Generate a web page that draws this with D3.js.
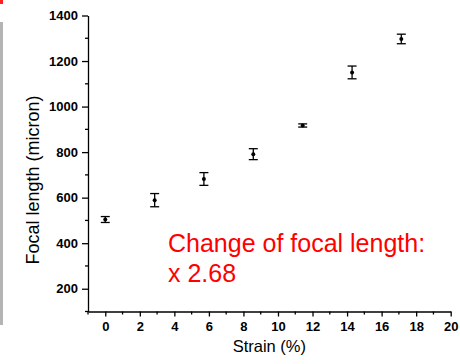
<!DOCTYPE html>
<html>
<head>
<meta charset="utf-8">
<script src="https://cdn.jsdelivr.net/npm/d3@7"></script>
<style>
  body { margin: 0; background: #fff; }
  svg { display: block; font-family: "Liberation Sans", Arial, sans-serif; }
  .axis path, .axis line { stroke: #000; stroke-width: 1.3; }
  .axis text { font-size: 13px; font-weight: bold; fill: #000; font-family: "Liberation Sans", Arial, sans-serif; }
</style>
</head>
<body>
<div id="chart"></div>
<script>
// values
var strain = [0, 2.86, 5.71, 8.57, 11.43, 14.29, 17.14];
var focal = [504, 589, 682, 791, 917, 1150, 1297];
var focalErr = [13, 29, 28, 24, 7, 28, 21];
var xTicks = [0, 2, 4, 6, 8, 10, 12, 14, 16, 18, 20];
var xMinor = [-1, 1, 3, 5, 7, 9, 11, 13, 15, 17, 19];
var yTicks = [200, 400, 600, 800, 1000, 1200, 1400];
var yMinor = [100, 300, 500, 700, 900, 1100, 1300];
var note = ["Change of focal length:", "x 2.68"];

var wide = 460;
var high = 364;

var svg = d3.select("#chart")
  .append("svg")
  .attr("width", wide)
  .attr("height", high);

// grey strip and red blob cut off at the left edge of the original
svg.append("rect").attr("x", 0).attr("y", 22).attr("width", 3).attr("height", 303).attr("fill", "#b4b4b4");
svg.append("rect").attr("x", 0).attr("y", 0).attr("width", 3).attr("height", 4).attr("fill", "#ff2020");

var xScale = d3.scaleLinear().domain([-1, 20]).range([88, 450.7]);
var yScale = d3.scaleLinear().domain([100, 1400]).range([311.5, 15.5]);

var xAxis = d3.axisBottom(xScale).tickValues(xTicks).tickFormat(d3.format("d"))
  .tickSize(5).tickSizeOuter(0).tickPadding(5);
var yAxis = d3.axisLeft(yScale).tickValues(yTicks).tickFormat(d3.format("d"))
  .tickSize(6).tickSizeOuter(0).tickPadding(4);

var gx = svg.append("g")
  .attr("class", "axis")
  .attr("transform", "translate(0," + yScale(100) + ")")
  .call(xAxis);
gx.selectAll("line.minor").data(xMinor).enter()
  .append("line")
  .attr("class", "minor")
  .attr("x1", function(d) { return xScale(d); })
  .attr("x2", function(d) { return xScale(d); })
  .attr("y1", 0).attr("y2", 3);

var gy = svg.append("g")
  .attr("class", "axis")
  .attr("transform", "translate(" + xScale(-1) + ",0)")
  .call(yAxis);
gy.selectAll("line.minor").data(yMinor).enter()
  .append("line")
  .attr("class", "minor")
  .attr("y1", function(d) { return yScale(d); })
  .attr("y2", function(d) { return yScale(d); })
  .attr("x1", 0).attr("x2", -3);

// axis titles
svg.append("text")
  .attr("x", (xScale(-1) + xScale(20)) / 2)
  .attr("y", 352)
  .attr("text-anchor", "middle")
  .attr("font-size", 16.5)
  .text("Strain (%)");

svg.append("text")
  .attr("transform", "translate(38.5,180) rotate(-90)")
  .attr("text-anchor", "middle")
  .attr("font-size", 18)
  .text("Focal length (micron)");

// error bars and points
var pts = strain.map(function(s, i) {
  return { x: s, y: focal[i], e: focalErr[i] };
});

var bars = svg.append("g")
  .attr("stroke", "#000")
  .attr("stroke-width", 1.3);

pts.forEach(function(d) {
  var cx = xScale(d.x);
  bars.append("line")
    .attr("x1", cx).attr("x2", cx)
    .attr("y1", yScale(d.y - d.e)).attr("y2", yScale(d.y + d.e));
  bars.append("line")
    .attr("x1", cx - 4.5).attr("x2", cx + 4.5)
    .attr("y1", yScale(d.y + d.e)).attr("y2", yScale(d.y + d.e));
  bars.append("line")
    .attr("x1", cx - 4.5).attr("x2", cx + 4.5)
    .attr("y1", yScale(d.y - d.e)).attr("y2", yScale(d.y - d.e));
});

svg.append("g").selectAll("circle")
  .data(pts).enter()
  .append("circle")
  .attr("cx", function(d) { return xScale(d.x); })
  .attr("cy", function(d) { return yScale(d.y); })
  .attr("r", 2)
  .attr("fill", "#000");

// red note
svg.append("g").selectAll("text")
  .data(note).enter()
  .append("text")
  .attr("x", 168)
  .attr("y", function(d, i) { return 251.5 + i * 30.5; })
  .attr("font-size", 25)
  .attr("fill", "#ff0000")
  .text(function(d) { return d; });
</script>
</body>
</html>
